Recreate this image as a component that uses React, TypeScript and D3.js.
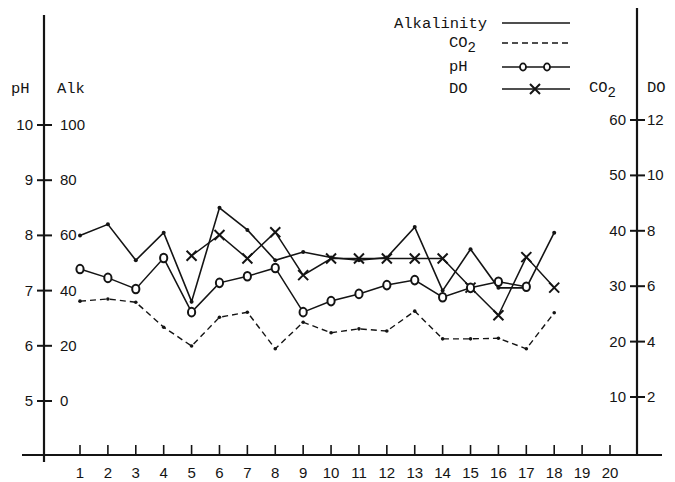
import { useEffect, useRef } from 'react';
import * as d3 from 'd3';

// sampling days along the x axis
const days = d3.range(1, 21);

// readings per day
const alkalinity = [60, 64, 51, 61, 36, 70, 62, 51, 54, 52, 51, 52, 63, 40, 55, 41, 41, 61];
const ph = [7.39, 7.23, 7.03, 7.59, 6.61, 7.14, 7.26, 7.41, 6.61, 6.81, 6.94, 7.1, 7.19, 6.88, 7.05, 7.16, 7.07];
const co2 = [27.3, 27.7, 27.1, 22.6, 19.2, 24.4, 25.3, 18.7, 23.5, 21.6, 22.3, 21.9, 25.5, 20.5, 20.5, 20.6, 18.7, 25.2];
const doDays = [5, 6, 7, 8, 9, 10, 11, 12, 13, 14, 15, 16, 17, 18];
const dissolvedO2 = [7.1, 7.85, 7.0, 7.95, 6.4, 7.0, 7.0, 7.0, 7.0, 7.0, 5.95, 4.95, 7.05, 5.95];

const phTicks = [5, 6, 7, 8, 9, 10];
const alkTicks = [0, 20, 40, 60, 80, 100];
const co2Ticks = [10, 20, 30, 40, 50, 60];
const doTicks = [2, 4, 6, 8, 10, 12];

const legendItems = ['Alkalinity', 'CO2', 'pH', 'DO'];

export default function App() {
  const svgRef = useRef<SVGSVGElement>(null);
  const width = 675;
  const height = 482;

  useEffect(() => {
    if (!svgRef.current) return;
    const svg = d3.select(svgRef.current);
    svg.selectAll('*').remove();

    const ink = '#141414';
    const mono = '"Liberation Mono", "DejaVu Sans Mono", monospace';
    const sans = '"Liberation Sans", Arial, sans-serif';
    const numSize = '15px';
    const monoSize = '15.5px';

    const x = d3.scaleLinear().domain([1, 20]).range([80, 610]);
    const yPh = d3.scaleLinear().domain([5, 10]).range([401, 125]);
    const yAlk = d3.scaleLinear().domain([0, 100]).range([401, 125]);
    const yCo2 = d3.scaleLinear().domain([10, 60]).range([397, 120]);
    const yDo = d3.scaleLinear().domain([2, 12]).range([397, 120]);

    const leftX = 44;
    const rightX = 637;
    const baseY = 455;

    // axes lines
    svg.append('line').attr('x1', leftX).attr('x2', leftX).attr('y1', 15).attr('y2', 462)
      .attr('stroke', ink).attr('stroke-width', 2.2);
    svg.append('line').attr('x1', rightX).attr('x2', rightX).attr('y1', 8).attr('y2', baseY)
      .attr('stroke', ink).attr('stroke-width', 2.2);
    svg.append('line').attr('x1', 22).attr('x2', 662).attr('y1', baseY).attr('y2', baseY)
      .attr('stroke', ink).attr('stroke-width', 2);

    // left ticks: pH and Alk share the axis
    const left = svg.append('g');
    phTicks.forEach((t, i) => {
      const y = yPh(t);
      left.append('line').attr('x1', leftX - 7).attr('x2', leftX + 8).attr('y1', y).attr('y2', y)
        .attr('stroke', ink).attr('stroke-width', 2);
      left.append('text').attr('x', 33).attr('y', y + 5).attr('text-anchor', 'end')
        .style('font-family', sans).style('font-size', numSize).attr('fill', ink).text(t);
      left.append('text').attr('x', 60).attr('y', yAlk(alkTicks[i]) + 5)
        .style('font-family', sans).style('font-size', numSize).attr('fill', ink).text(alkTicks[i]);
    });

    // right ticks: CO2 and DO share the axis
    const right = svg.append('g');
    co2Ticks.forEach((t, i) => {
      const y = yCo2(t);
      right.append('line').attr('x1', rightX - 7).attr('x2', rightX + 8).attr('y1', y).attr('y2', y)
        .attr('stroke', ink).attr('stroke-width', 2);
      right.append('text').attr('x', 626).attr('y', y + 5).attr('text-anchor', 'end')
        .style('font-family', sans).style('font-size', numSize).attr('fill', ink).text(t);
      right.append('text').attr('x', 647).attr('y', yDo(doTicks[i]) + 5)
        .style('font-family', sans).style('font-size', numSize).attr('fill', ink).text(doTicks[i]);
    });

    // x ticks
    const bottom = svg.append('g');
    days.forEach(d => {
      bottom.append('line').attr('x1', x(d)).attr('x2', x(d)).attr('y1', baseY - 10).attr('y2', baseY)
        .attr('stroke', ink).attr('stroke-width', 1.6);
      bottom.append('text').attr('x', x(d)).attr('y', 478).attr('text-anchor', 'middle')
        .style('font-family', sans).style('font-size', numSize).attr('fill', ink).text(d);
    });

    // axis titles
    const title = (tx: number, ty: number, label: string, sub?: string) => {
      const t = svg.append('text').attr('x', tx).attr('y', ty)
        .style('font-family', mono).style('font-size', monoSize).attr('fill', ink);
      t.append('tspan').text(label);
      if (sub) t.append('tspan').attr('dy', 5).style('font-size', '14px').text(sub);
    };
    title(11, 93, 'pH');
    title(57, 93, 'Alk');
    title(589, 92, 'CO', '2');
    title(647, 92, 'DO');

    const lineGen = (xs: number[], ys: number[]) =>
      d3.line<number>().x((_, i) => xs[i]).y((_, i) => ys[i])(xs) || '';

    // Alkalinity: solid line with small dots
    const alkX = alkalinity.map((_, i) => x(days[i]));
    const alkY = alkalinity.map(v => yAlk(v));
    svg.append('path').attr('d', lineGen(alkX, alkY)).attr('fill', 'none')
      .attr('stroke', ink).attr('stroke-width', 1.6);
    svg.selectAll('.alk-dot').data(alkalinity).join('circle').attr('class', 'alk-dot')
      .attr('cx', (_, i) => alkX[i]).attr('cy', (_, i) => alkY[i]).attr('r', 2).attr('fill', ink);

    // CO2: dashed line with small dots
    const co2X = co2.map((_, i) => x(days[i]));
    const co2Y = co2.map(v => yCo2(v));
    svg.append('path').attr('d', lineGen(co2X, co2Y)).attr('fill', 'none')
      .attr('stroke', ink).attr('stroke-width', 1.4).attr('stroke-dasharray', '6,4');
    svg.selectAll('.co2-dot').data(co2).join('circle').attr('class', 'co2-dot')
      .attr('cx', (_, i) => co2X[i]).attr('cy', (_, i) => co2Y[i]).attr('r', 1.8).attr('fill', ink);

    // DO: solid line with X markers
    const doX = doDays.map(d => x(d));
    const doY = dissolvedO2.map(v => yDo(v));
    svg.append('path').attr('d', lineGen(doX, doY)).attr('fill', 'none')
      .attr('stroke', ink).attr('stroke-width', 1.5);
    const cross = (g: d3.Selection<SVGGElement, unknown, null, undefined>, cx: number, cy: number) => {
      const s = 5;
      g.append('path').attr('d', `M${cx - s},${cy - s}L${cx + s},${cy + s}M${cx + s},${cy - s}L${cx - s},${cy + s}`)
        .attr('stroke', ink).attr('stroke-width', 2);
    };
    const doG = svg.append('g');
    doX.forEach((cx, i) => cross(doG, cx, doY[i]));

    // pH: solid line with open circles
    const phX = ph.map((_, i) => x(days[i]));
    const phY = ph.map(v => yPh(v));
    svg.append('path').attr('d', lineGen(phX, phY)).attr('fill', 'none')
      .attr('stroke', ink).attr('stroke-width', 1.5);
    svg.selectAll('.ph-dot').data(ph).join('ellipse').attr('class', 'ph-dot')
      .attr('cx', (_, i) => phX[i]).attr('cy', (_, i) => phY[i]).attr('rx', 3.6).attr('ry', 4.3)
      .attr('fill', '#fff').attr('stroke', ink).attr('stroke-width', 2);

    // legend
    const legend = svg.append('g');
    const rows = [23, 43, 67, 89];
    legendItems.forEach((name, i) => {
      const y = rows[i];
      if (name === 'Alkalinity') {
        legend.append('text').attr('x', 487).attr('y', y + 5).attr('text-anchor', 'end')
          .style('font-family', mono).style('font-size', monoSize).attr('fill', ink).text(name);
      } else {
        const t = legend.append('text').attr('x', 449).attr('y', y + 4)
          .style('font-family', mono).style('font-size', monoSize).attr('fill', ink);
        if (name === 'CO2') {
          t.append('tspan').text('CO');
          t.append('tspan').attr('dy', 5).style('font-size', '14px').text('2');
        } else {
          t.text(name);
        }
      }
      legend.append('line').attr('x1', 502).attr('x2', 570).attr('y1', y).attr('y2', y)
        .attr('stroke', ink).attr('stroke-width', 1.5)
        .attr('stroke-dasharray', name === 'CO2' ? '6,4' : null);
      if (name === 'pH') {
        [523, 547].forEach(cx => legend.append('ellipse').attr('cx', cx).attr('cy', y)
          .attr('rx', 3).attr('ry', 3.6).attr('fill', '#fff').attr('stroke', ink).attr('stroke-width', 1.8));
      }
      if (name === 'DO') {
        cross(legend, 535, y);
      }
    });
  }, []);

  return (
    <div style={{ position: 'absolute', left: 0, top: 0, background: '#fff' }}>
      <svg ref={svgRef} width={width} height={height} />
    </div>
  );
}
